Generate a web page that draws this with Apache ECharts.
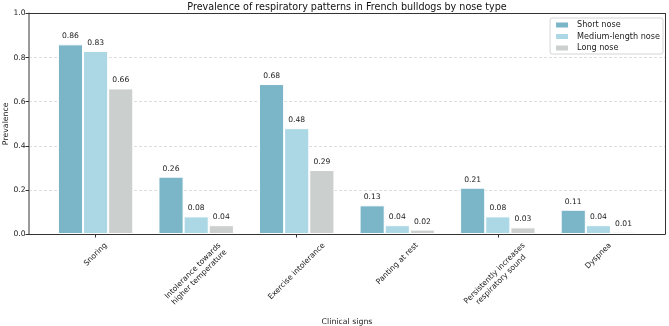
<!DOCTYPE html>
<html><head><meta charset="utf-8">
<script src="https://cdn.jsdelivr.net/npm/echarts@6/dist/echarts.min.js"></script>
<style>html,body{margin:0;padding:0;background:#fff}#c{width:669px;height:326px}</style>
</head><body><div id="c"></div>
<script>
const categories = ['Snoring', 'Intolerance towards\nhigher temperature', 'Exercise intolerance', 'Panting at rest', 'Persistently increases\nrespiratory sound', 'Dyspnea'];
const seriesNames = ['Short nose', 'Medium-length nose', 'Long nose'];
const shortNose = [0.86, 0.26, 0.68, 0.13, 0.21, 0.11];
const mediumNose = [0.83, 0.08, 0.48, 0.04, 0.08, 0.04];
const longNose = [0.66, 0.04, 0.29, 0.02, 0.03, 0.01];
const yTicks = [0.0, 0.2, 0.4, 0.6, 0.8, 1.0];

const FONT = '"DejaVu Sans", sans-serif';
const colors = ['#7ab5c8', '#acd8e5', '#cbcfcd'];
const chart = echarts.init(document.getElementById('c'), null, {renderer: 'canvas'});

const frame = {left: 29, right: 4, top: 13.5, bottom: 92};
// matplotlib-like x limits: bars span -0.375..5.375, margins 5%
const xLo = -0.6625, xHi = 5.6625;
const plotW = 669 - frame.left - frame.right;
const unit = plotW / (xHi - xLo);
const barGrid = {
  left: frame.left + (-0.5 - xLo) * unit,
  right: frame.right + (xHi - 5.5) * unit,
  top: frame.top, bottom: frame.bottom,
  outerBoundsMode: 'none', containLabel: false
};
const spine = {show: true, onZero: false, lineStyle: {color: '#333', width: 1}};
const hidden = {axisTick: {show: false}, axisLabel: {show: false}, splitLine: {show: false}};

const allData = [shortNose, mediumNose, longNose];
const option = {
  animation: false,
  backgroundColor: '#fff',
  title: {
    text: 'Prevalence of respiratory patterns in French bulldogs by nose type',
    left: frame.left + plotW / 2, textAlign: 'center', top: 2, padding: 0,
    textStyle: {fontFamily: FONT, fontSize: 9.6, fontWeight: 'normal', color: '#111'}
  },
  legend: {
    orient: 'vertical', right: 6, top: 18,
    itemWidth: 14, itemHeight: 7, itemGap: 1.5,
    padding: [2, 3, 1, 4],
    backgroundColor: '#fff', borderColor: '#d5d5d5', borderWidth: 1, borderRadius: 2,
    textStyle: {fontFamily: FONT, fontSize: 8.1, color: '#222', lineHeight: 10, padding: [0, 0, 0, 3]},
    data: seriesNames.map(n => ({name: n, icon: 'rect'}))
  },
  grid: [
    Object.assign({show: false, outerBoundsMode: 'none', containLabel: false}, frame),
    barGrid
  ],
  xAxis: [
    Object.assign({type: 'value', gridIndex: 0, min: 0, max: 1, axisLine: spine,
     name: 'Clinical signs', nameLocation: 'middle', nameGap: 84, nameMoveOverlap: false,
     nameTextStyle: {fontFamily: FONT, fontSize: 7.8, color: '#222'}}, hidden),
    {type: 'category', gridIndex: 1, data: categories,
     axisLine: {show: false},
     axisTick: {show: true, alignWithLabel: true, length: 3.5, lineStyle: {color: '#333'}},
     axisLabel: {show: false}},
    Object.assign({type: 'value', gridIndex: 0, position: 'top', min: 0, max: 1, axisLine: spine}, hidden)
  ],
  yAxis: [
    {type: 'value', gridIndex: 0, min: 0, max: 1, interval: 0.2,
     axisLine: {show: true, onZero: false, lineStyle: {color: '#9a9a9a', width: 2}},
     axisTick: {show: true, length: 3.5, lineStyle: {color: '#333'}},
     axisLabel: {fontFamily: FONT, fontSize: 7.6, color: '#222', margin: 3.5,
       formatter: v => v.toFixed(1)},
     splitLine: {show: true, showMinLine: false, showMaxLine: false,
       lineStyle: {color: '#d4d4d4', type: [3, 2], width: 0.8}},
     name: 'Prevalence', nameLocation: 'middle', nameGap: 19, nameRotate: 90, nameMoveOverlap: false,
     nameTextStyle: {fontFamily: FONT, fontSize: 7.8, color: '#222'}},
    {type: 'value', gridIndex: 1, min: 0, max: 1, show: false},
    Object.assign({type: 'value', gridIndex: 0, position: 'right', min: 0, max: 1, axisLine: spine}, hidden)
  ],
  series: allData.map((d, i) => ({
    name: seriesNames[i], type: 'bar', xAxisIndex: 1, yAxisIndex: 1,
    data: d, barGap: '0%', barCategoryGap: '25%',
    itemStyle: {color: colors[i], borderColor: '#fff', borderWidth: 1},
    label: {show: true, position: 'top', distance: 4, fontFamily: FONT, fontSize: 7.6, color: '#222',
      formatter: p => p.value.toFixed(2)}
  }))
};
chart.setOption(option);

// matplotlib-style rotated tick labels (rotation 45, ha=center): bbox centered on tick
(function placeLabels() {
  const fs = 7.6, lh = 9;
  const ctx = document.createElement('canvas').getContext('2d');
  ctx.font = fs + 'px ' + FONT;
  const axisY = chart.convertToPixel({yAxisIndex: 1}, 0);
  const s = Math.SQRT1_2;
  const els = categories.map((c, i) => {
    const lines = c.split('\n');
    const w = Math.max(...lines.map(t => ctx.measureText(t).width));
    const h = lines.length * lh;
    const half = (w + h) * s / 2;
    return {
      type: 'text',
      x: chart.convertToPixel({xAxisIndex: 1}, i),
      y: axisY + 7 + half,
      rotation: Math.PI / 4,
      style: {text: c, align: 'center', verticalAlign: 'middle', font: fs + 'px ' + FONT,
        fill: '#222', lineHeight: lh}
    };
  });
  chart.setOption({graphic: els});
})();
</script></body></html>
